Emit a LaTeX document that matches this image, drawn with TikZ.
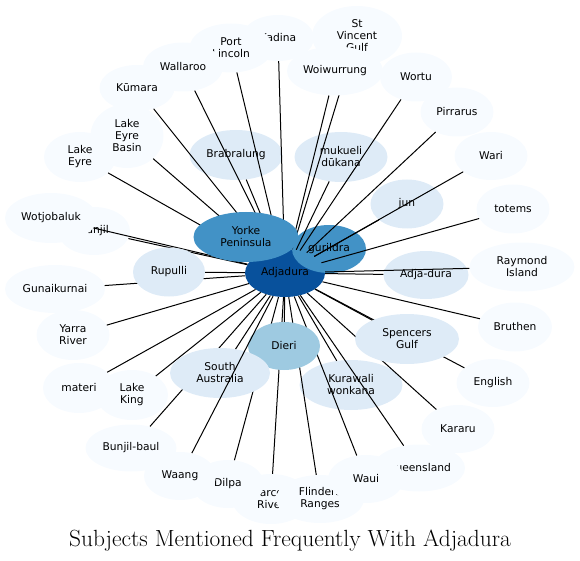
\documentclass[tikz,border=0pt]{standalone}
\usepackage{fontspec}
\newfontfamily\nodefont{DejaVu Sans}
\usetikzlibrary{shapes.geometric}
\definecolor{c0}{RGB}{247,251,255}
\definecolor{c1}{RGB}{222,235,247}
\definecolor{c2}{RGB}{158,202,225}
\definecolor{c3}{RGB}{66,146,198}
\definecolor{c4}{RGB}{8,81,156}
\tikzset{
  bub/.style={ellipse, inner sep=0pt, align=center, text=black,
    font=\nodefont\fontsize{10.7}{12}\selectfont},
  outer/.style={bub, fill=c0},
  inner/.style={bub, fill=c1},
  mid/.style={bub, fill=c2},
  hub/.style={bub, fill=c3},
  core/.style={bub, fill=c4},
  sz/.style 2 args={minimum width=#1pt, minimum height=#2pt},
  link/.style={draw=black, line width=1pt},
  titlefont/.style={font=\fontsize{23.4}{27}\selectfont}
}
\begin{document}
\begin{tikzpicture}[x=1pt,y=-1pt]
\useasboundingbox (0,0) rectangle (580,561);
% outer nodes
\node[outer, sz={72}{50}] (LE) at (80,157) {Lake\\Eyre};
\node[outer, sz={73}{64}] (LEB) at (127,136) {Lake\\Eyre\\Basin};
\node[outer, sz={75}{46}] (Kum) at (137,88) {Kūmara};
\node[outer, sz={72}{46}] (Kad) at (278,38) {Kadina};
\node[outer, sz={83}{49}] (PL) at (231,48) {Port\\Lincoln};
\node[outer, sz={80}{49}] (Wal) at (183,67) {Wallaroo};
\node[outer, sz={90}{60}] (SVG) at (357,36) {St\\Vincent\\Gulf};
\node[outer, sz={72}{49}] (Wor) at (416,77) {Wortu};
\node[outer, sz={73}{49}] (Pir) at (457,112) {Pirrarus};
\node[outer, sz={73}{48}] (Wari) at (491,156) {Wari};
\node[outer, sz={73}{49}] (tot) at (513,209) {totems};
\node[outer, sz={105}{49}] (RI) at (522,267) {Raymond\\Island};
\node[outer, sz={74}{49}] (Bru) at (515,327) {Bruthen};
\node[outer, sz={73}{48}] (Eng) at (493,383) {English};
\node[outer, sz={73}{48}] (Kar) at (458,429) {Kararu};
\node[outer, sz={78}{50}] (BR) at (271,499) {Barcoo\\River};
\node[outer, sz={72}{48}] (Dil) at (228,484) {Dilpa};
\node[outer, sz={72}{48}] (Waang) at (180,476) {Waang};
\node[outer, sz={88}{48}] (FR) at (320,499) {Flinders\\Ranges};
\node[outer, sz={92}{47}] (Qld) at (419,468) {Queensland};
\node[outer, sz={76}{48}] (Waui) at (366,479) {Waui};
\node[outer, sz={91}{47}] (BB) at (131,448) {Bunjil-baul};
\node[outer, sz={72}{50}] (mat) at (79,388) {materi};
\node[outer, sz={72}{50}] (LK) at (132,395) {Lake\\King};
\node[outer, sz={73}{50}] (Yar) at (73,335) {Yarra\\River};
\node[outer, sz={100}{48}] (Gun) at (55,289) {Gunaikurnai};
\node[outer, sz={72}{48}] (Bun) at (94,231) {Bunjil};
\node[outer, sz={92}{50}] (Wot) at (51,218) {Wotjobaluk};
% inner nodes below the connectors
\node[inner, sz={93}{50}] (Brab) at (236,155) {Brabralung};
\node[inner, sz={93}{50}] (muk) at (341,157) {mukueli\\dūkana};
\node[inner, sz={73}{49}] (jun) at (407,204) {jun};
\node[inner, sz={85}{48}] (AD) at (426,275) {Adja-dura};
\node[inner, sz={103}{50}] (Kur) at (351,385) {Kurawali\\wonkana};
\node[core, sz={80}{48}] (Adj) at (285,273) {Adjadura};
\node[hub, sz={74}{48}] (gur) at (329,249) {gurildra};
% connectors
\foreach \n in {LE,LEB,Kum,Wal,PL,Kad,SVG,Wor,Pir,Wari,tot,RI,Bru,Eng,Kar,Qld,Waui,FR,BR,Dil,BB,LK,mat,Yar,Gun,Bun,Wot,Brab,muk,jun,AD,Kur}
  \draw[link] (Adj) -- (\n);
% nodes above the connectors
\node[outer, sz={96}{49}] (Woi) at (335,71) {Woiwurrung};
\draw[link] (Adj) -- (Woi);
\node[inner, sz={72}{49}] (Rup) at (169,272) {Rupulli};
\draw[link] (Adj) -- (Rup);
\node[inner, sz={104}{50}] (SG) at (407,339) {Spencers\\Gulf};
\draw[link] (Adj) -- (SG);
\node[mid, sz={72}{48}] (Die) at (284,346) {Dieri};
\draw[link] (Adj) -- (Die);
\node[inner, sz={100}{50}] (SA) at (220,373) {South\\Australia};
\draw[link] (Adj) -- (SA);
\draw[link] (Adj) -- (Waang);
\node[hub, sz={105}{50}] (Yor) at (246,237) {Yorke\\Peninsula};
% title
\node[titlefont, anchor=base] (title) at (290,546) {Subjects Mentioned Frequently With Adjadura};
\end{tikzpicture}
\end{document}
